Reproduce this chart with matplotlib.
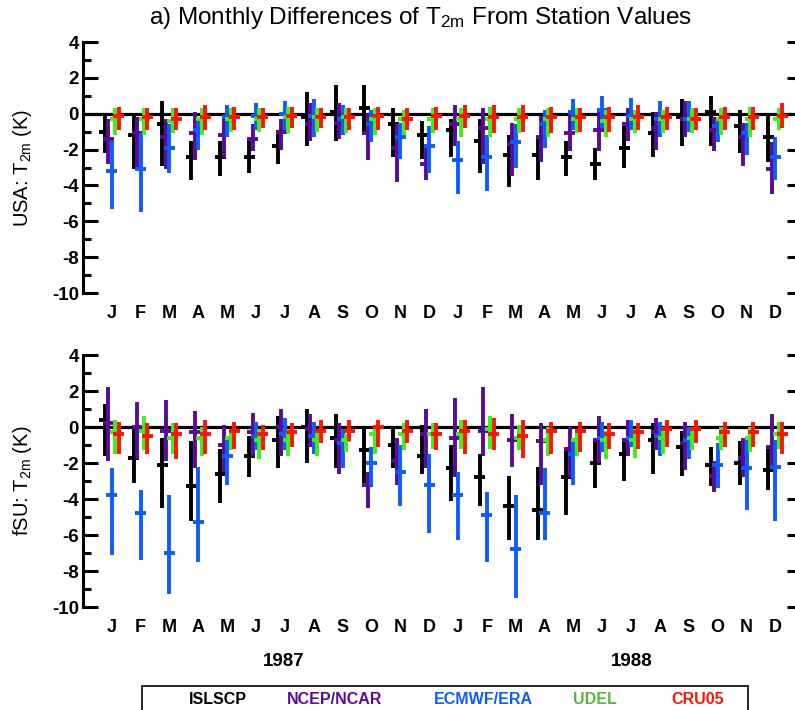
import matplotlib
import numpy as np

matplotlib.use('Agg')
import matplotlib.pyplot as plt
from matplotlib.patches import Rectangle

plt.rcParams['font.family'] = 'Liberation Sans'
plt.rcParams['mathtext.default'] = 'regular'

months = ['J', 'F', 'M', 'A', 'M', 'J', 'J', 'A', 'S', 'O', 'N', 'D'] * 2
years = ['1987', '1988']
names = ['ISLSCP', 'NCEP/NCAR', 'ECMWF/ERA', 'UDEL', 'CRU05']
colors = ['#000000', '#5a0a9a', '#0d5cff', '#3cf01a', '#ff1400']
text_colors = ['#000000', '#5a0a9a', '#0d5cff', '#55b83a', '#ff1400']

# --- USA: top of bar, centre mark, bottom of bar (K), Jan 1987 .. Dec 1988
usa_islscp_hi = [-0.1, -0.1, 0.7, -1.5, -1.5, -1.5, -0.9, 1.2, 1.6, 1.6, 0.3, -0.4,
                 -0.3, -0.3, -1.2, -1.4, -1.5, -1.9, -0.7, 0.1, 0.8, 1.0, 0.2, 0.0]
usa_islscp_mid = [-1.0, -1.2, -0.6, -2.4, -2.4, -2.4, -1.8, -0.2, 0.1, 0.3, -0.6, -1.2,
                  -0.9, -1.5, -2.3, -2.3, -2.4, -2.8, -1.9, -1.1, -0.2, 0.1, -0.7, -1.3]
usa_islscp_lo = [-2.2, -3.1, -2.9, -3.7, -3.5, -3.3, -2.8, -1.8, -1.5, -1.0, -2.4, -2.5,
                 -2.4, -3.3, -4.1, -3.7, -3.5, -3.7, -3.0, -2.4, -1.8, -1.8, -2.2, -2.7]

usa_ncep_hi = [-0.3, -0.2, -0.3, 0.1, -0.2, -0.6, -0.3, 0.6, 0.6, 0.0, -0.6, -1.7,
               0.5, 0.3, -0.5, -0.1, 0.2, 0.1, 0.3, 0.1, 0.7, -0.2, -0.5, -1.6]
usa_ncep_mid = [-1.4, -1.1, -1.3, -1.1, -1.2, -1.4, -1.0, -0.6, -0.5, -1.1, -1.9, -2.8,
                -0.6, -0.8, -1.7, -1.3, -1.1, -0.9, -0.6, -0.8, -0.3, -0.9, -1.3, -3.1]
usa_ncep_lo = [-2.8, -3.0, -3.1, -2.6, -2.4, -2.1, -2.0, -1.5, -1.4, -2.6, -3.8, -3.7,
               -1.8, -2.8, -3.5, -2.7, -2.1, -2.1, -1.5, -2.0, -1.3, -2.1, -2.9, -4.5]

usa_ecmwf_hi = [-1.5, -1.1, -0.6, -0.3, 0.5, 0.6, 0.7, 0.8, 0.5, 0.2, -0.5, -0.7,
                -1.5, -1.2, -0.6, 0.2, 0.8, 1.0, 0.9, 0.7, 0.7, -0.4, -0.5, -1.3]
usa_ecmwf_mid = [-3.2, -3.1, -1.9, -0.9, -0.2, -0.1, 0.0, -0.1, -0.3, -0.6, -1.3, -1.8,
                 -2.6, -2.4, -1.6, -0.6, 0.1, 0.2, -0.1, -0.3, -0.3, -0.7, -1.1, -2.4]
usa_ecmwf_lo = [-5.3, -5.5, -3.3, -2.0, -1.3, -0.9, -0.9, -1.3, -1.2, -1.6, -2.5, -3.3,
                -4.5, -4.3, -3.0, -1.9, -0.9, -0.8, -0.9, -1.3, -1.0, -1.6, -2.3, -3.7]

usa_udel_hi = [0.3, 0.3, 0.3, 0.3, 0.3, 0.3, 0.4, 0.3, 0.3, 0.3, 0.2, 0.3,
               0.3, 0.4, 0.3, 0.3, 0.3, 0.2, 0.2, 0.2, 0.3, 0.3, 0.4, 0.3]
usa_udel_mid = [-0.3, -0.3, -0.4, -0.3, -0.3, -0.3, -0.2, -0.2, -0.2, -0.3, -0.3, -0.3,
                -0.3, -0.3, -0.3, -0.3, -0.3, -0.4, -0.3, -0.3, -0.3, -0.3, -0.3, -0.3]
usa_udel_lo = [-1.2, -1.2, -1.1, -1.2, -1.0, -1.0, -1.1, -1.0, -1.1, -1.2, -1.2, -1.1,
               -1.3, -1.3, -1.1, -1.3, -1.1, -1.3, -1.1, -1.1, -1.1, -1.2, -1.3, -0.9]

usa_cru_hi = [0.4, 0.3, 0.3, 0.5, 0.4, 0.3, 0.4, 0.3, 0.3, 0.4, 0.3, 0.4,
              0.5, 0.5, 0.5, 0.4, 0.3, 0.4, 0.5, 0.4, 0.3, 0.4, 0.4, 0.6]
usa_cru_mid = [-0.1, -0.2, -0.3, -0.2, -0.2, -0.2, -0.1, -0.2, -0.2, -0.1, -0.3, -0.1,
               -0.1, -0.2, -0.2, -0.2, -0.2, -0.2, -0.2, -0.2, -0.3, -0.2, -0.2, -0.1]
usa_cru_lo = [-0.9, -0.9, -0.9, -0.9, -0.9, -0.8, -0.8, -0.8, -0.9, -0.9, -0.9, -0.9,
              -0.8, -1.1, -1.0, -1.1, -1.0, -1.0, -0.9, -0.9, -0.9, -0.9, -0.9, -0.8]

# --- fSU
fsu_islscp_hi = [1.3, 0.0, -0.6, -0.8, -1.2, -0.5, 0.6, 1.0, 0.7, 0.0, 0.0, 0.1,
                 -1.0, -1.5, -2.7, -2.2, -1.3, -0.7, -0.6, 0.2, -0.2, -1.1, -0.8, -1.2]
fsu_islscp_mid = [0.4, -1.7, -2.1, -3.3, -2.6, -1.6, -0.7, 0.0, -0.6, -1.3, -1.0, -1.6,
                  -2.3, -2.8, -4.4, -4.6, -2.8, -2.0, -1.5, -0.7, -1.1, -2.1, -2.0, -2.4]
fsu_islscp_lo = [-1.6, -3.1, -4.5, -5.2, -4.2, -2.8, -2.3, -2.0, -2.3, -3.1, -2.3, -2.6,
                 -4.1, -4.4, -6.3, -6.3, -4.9, -3.4, -3.0, -2.6, -2.7, -3.3, -3.2, -3.5]

fsu_ncep_hi = [2.2, 1.4, 1.5, 0.9, 0.1, 0.8, 1.0, 0.7, 0.2, -2.5, -0.6, 1.0,
               1.6, 2.2, 0.7, 0.2, 0.0, 0.6, 0.4, 0.5, 0.3, -1.9, -0.6, 0.7]
fsu_ncep_mid = [0.2, 0.0, -0.2, -0.3, -1.0, -0.3, 0.0, -0.1, -0.7, -3.2, -1.9, -0.4,
                -0.6, -0.2, -0.7, -0.8, -1.2, -0.7, -0.7, -0.3, -0.9, -2.7, -1.7, -1.1]
fsu_ncep_lo = [-1.9, -1.8, -1.9, -2.3, -2.5, -1.6, -1.6, -1.1, -2.6, -4.5, -3.2, -2.3,
               -2.8, -1.6, -2.2, -3.2, -2.8, -2.0, -1.6, -1.3, -2.4, -3.6, -2.8, -2.2]

fsu_ecmwf_hi = [-2.3, -3.5, -3.8, -2.2, -0.7, 0.3, 0.5, 0.3, -0.1, -1.1, -1.0, -1.5,
                -2.5, -3.6, -3.8, -2.3, -0.8, 0.3, 0.4, 0.3, 0.0, -0.9, -0.7, -0.7]
fsu_ecmwf_mid = [-3.8, -4.8, -7.0, -5.3, -1.6, -0.5, -0.4, -0.5, -0.9, -2.0, -2.5, -3.2,
                 -3.8, -4.9, -6.8, -4.8, -1.5, -0.6, -0.6, -0.5, -0.7, -2.1, -2.3, -2.2]
fsu_ecmwf_lo = [-7.1, -7.4, -9.3, -7.5, -3.2, -1.3, -1.3, -1.5, -2.3, -3.3, -4.4, -5.9,
                -6.3, -7.5, -9.5, -6.3, -3.2, -1.4, -1.1, -1.6, -1.8, -3.4, -4.6, -5.2]

fsu_udel_hi = [0.4, 0.6, 0.2, 0.0, -0.3, -0.1, -0.1, -0.2, -0.4, 0.0, 0.2, 0.2,
               0.4, 0.6, 0.1, 0.0, -0.3, -0.2, -0.1, 0.0, 0.0, 0.0, 0.0, 0.3]
fsu_udel_mid = [-0.3, -0.2, -0.6, -0.6, -0.6, -0.7, -0.7, -0.7, -0.7, -0.4, -0.4, -0.4,
                -0.4, -0.1, -0.6, -0.7, -0.7, -0.7, -0.7, -0.6, -0.6, -0.6, -0.6, -0.4]
fsu_udel_lo = [-1.5, -1.3, -1.5, -1.6, -1.3, -1.8, -1.6, -1.6, -1.4, -1.5, -1.3, -1.2,
               -1.2, -1.2, -1.3, -1.6, -1.6, -1.8, -1.7, -1.5, -1.3, -1.3, -1.4, -1.2]

fsu_cru_hi = [0.3, 0.2, 0.2, 0.4, 0.3, 0.1, 0.2, 0.4, 0.4, 0.4, 0.4, 0.2,
              0.4, 0.5, 0.4, 0.3, 0.3, 0.2, 0.2, 0.4, 0.4, 0.3, 0.3, 0.3]
fsu_cru_mid = [-0.4, -0.5, -0.4, -0.4, -0.2, -0.4, -0.3, -0.2, -0.2, 0.0, -0.2, -0.4,
               -0.2, -0.4, -0.5, -0.2, -0.2, -0.4, -0.3, -0.1, -0.1, -0.3, -0.3, -0.4]
fsu_cru_lo = [-1.5, -1.5, -1.8, -1.5, -1.2, -1.3, -1.1, -0.9, -0.8, -1.1, -0.9, -1.3,
              -1.5, -1.3, -1.7, -1.5, -1.4, -1.2, -1.2, -1.1, -0.9, -1.1, -1.1, -1.5]

usa_hi = [usa_islscp_hi, usa_ncep_hi, usa_ecmwf_hi, usa_udel_hi, usa_cru_hi]
usa_mid = [usa_islscp_mid, usa_ncep_mid, usa_ecmwf_mid, usa_udel_mid, usa_cru_mid]
usa_lo = [usa_islscp_lo, usa_ncep_lo, usa_ecmwf_lo, usa_udel_lo, usa_cru_lo]
fsu_hi = [fsu_islscp_hi, fsu_ncep_hi, fsu_ecmwf_hi, fsu_udel_hi, fsu_cru_hi]
fsu_mid = [fsu_islscp_mid, fsu_ncep_mid, fsu_ecmwf_mid, fsu_udel_mid, fsu_cru_mid]
fsu_lo = [fsu_islscp_lo, fsu_ncep_lo, fsu_ecmwf_lo, fsu_udel_lo, fsu_cru_lo]

offsets = [-0.24, -0.12, 0.0, 0.12, 0.24]
W, H = 795, 710


def draw_panel(ax, his, mids, los, ylabel):
    x = np.arange(len(months))
    ax.axhline(0, color='black', lw=2.3, zorder=1)
    for k in range(len(names)):
        xs = x + offsets[k]
        ax.vlines(xs, los[k], his[k], color=colors[k], lw=2.8, zorder=2 + k)
        ax.hlines(mids[k], xs - 0.19, xs + 0.19, color=colors[k], lw=2.8, zorder=2 + k)

    ax.set_xlim(-0.995, 23.68)
    ax.set_ylim(-10, 4)
    ax.set_xticks(x, labels=months, fontsize=13, fontweight='bold')
    ax.tick_params(axis='x', length=0, pad=9)
    yt = list(range(-10, 5, 2))
    ax.set_yticks(yt, labels=[str(t) for t in yt], fontsize=13.5, fontweight='bold')
    ax.set_yticks(list(range(-9, 4, 2)), minor=True)
    ax.tick_params(axis='y', which='major', direction='in', length=11, width=2.2, pad=3)
    ax.tick_params(axis='y', which='minor', direction='in', length=5.5, width=2.2)
    for s in ['top', 'bottom', 'right']:
        ax.spines[s].set_visible(False)
    ax.spines['left'].set_linewidth(2.2)

    ax2 = ax.twinx()
    ax2.set_ylim(-10, 4)
    ax2.set_yticks(yt)
    ax2.tick_params(axis='y', direction='in', length=6, width=2.2, labelright=False)
    for s in ax2.spines.values():
        s.set_visible(False)

    pos = ax.get_position()
    fig.text(22 / W, (pos.y0 + pos.y1) / 2, ylabel, rotation=90, fontsize=14.5,
             ha='center', va='center')


fig = plt.figure(figsize=(W / 100, H / 100), dpi=100)
ax_top = fig.add_axes([83 / W, 1 - 293 / H, 1 - 83 / W, 251 / H])
ax_bot = fig.add_axes([83 / W, 1 - 607 / H, 1 - 83 / W, 252 / H])

draw_panel(ax_top, usa_hi, usa_mid, usa_lo, 'USA: T$_{2m}$ (K)')
draw_panel(ax_bot, fsu_hi, fsu_mid, fsu_lo, 'fSU: T$_{2m}$ (K)')

fig.text(421 / W, 1 - 18 / H, 'a) Monthly Differences of T$_{2m}$ From Station Values',
         fontsize=17.5, ha='center', va='center')

# year labels under each half of the lower panel
for yr, xc in zip(years, [284, 632]):
    fig.text(xc / W, 1 - 662 / H, yr, fontsize=13.5, fontweight='bold', ha='center', va='center')

# legend box, cut by the bottom of the picture
fig.patches.append(Rectangle((142 / W, -0.05), 606 / W, (H - 686) / H + 0.05,
                             transform=fig.transFigure, fill=False, lw=1.2, ec='black'))
for name, tc, xc in zip(names, text_colors, [218, 335, 483, 595, 698]):
    fig.text(xc / W, 1 - 700 / H, name, fontsize=11.5, fontweight='bold', color=tc,
             ha='center', va='center')

fig.savefig('out.png', dpi=100)
